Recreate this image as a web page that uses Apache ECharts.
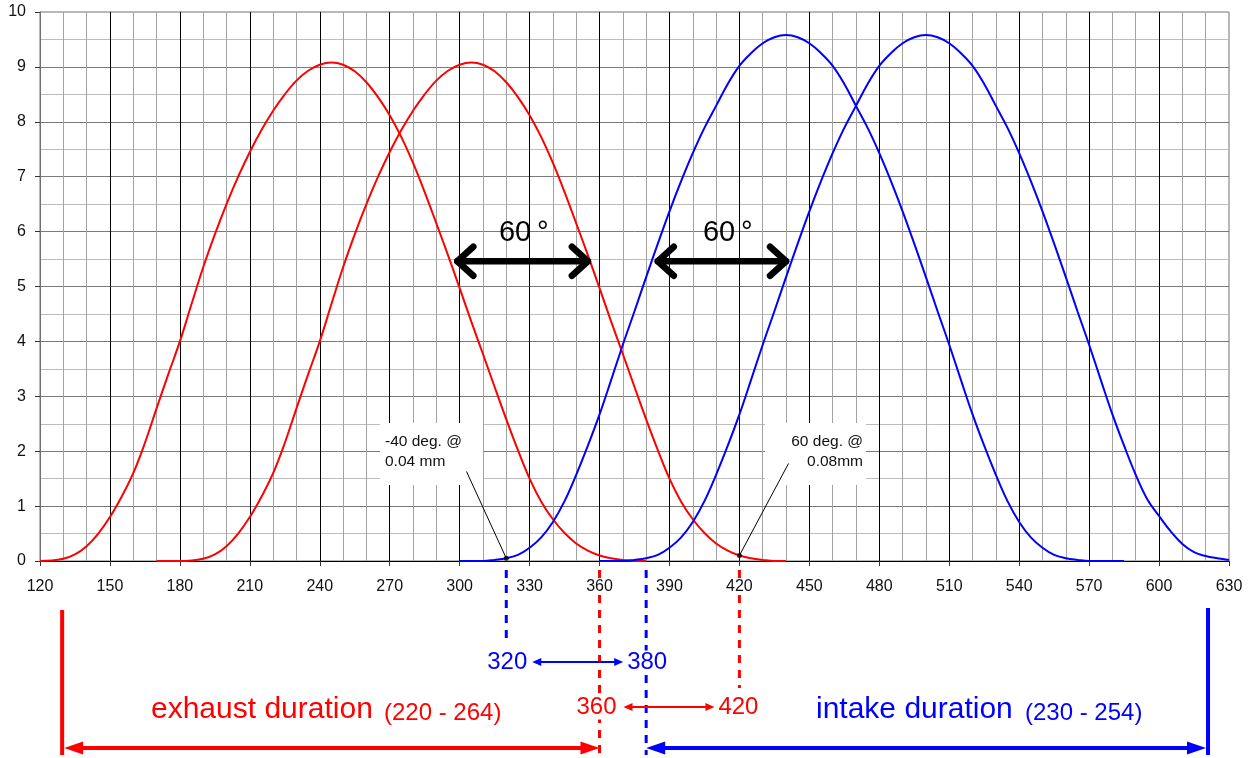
<!DOCTYPE html>
<html>
<head>
<meta charset="utf-8">
<title>Valve lift vs crank angle</title>
<script src="https://cdn.jsdelivr.net/npm/echarts@6/dist/echarts.min.js"></script>
<style>
  html, body { margin: 0; padding: 0; background: #fff; }
  #chart { width: 1250px; height: 758px; }
</style>
</head>
<body>
<div id="chart"></div>
<script>
// Lift tables (mm), sampled every STEP degrees of crank angle from the listed start angle.
const STEP = 5;

const exhaustAStart = 120;
const exhaustA = [0.00, 0.01, 0.04, 0.12, 0.27, 0.50, 0.80, 1.17, 1.60, 2.15, 2.78, 3.40, 4.00,
  4.68, 5.35, 5.95, 6.50, 7.00, 7.45, 7.85, 8.20, 8.50, 8.75, 8.93, 9.04, 9.08, 9.04, 8.92, 8.72,
  8.45, 8.12, 7.72, 7.25, 6.72, 6.15, 5.57, 4.97, 4.36, 3.77, 3.17, 2.58, 2.02, 1.50, 1.08, 0.76,
  0.51, 0.32, 0.19, 0.10, 0.05, 0.02, 0.00, 0.00];

const exhaustBStart = 170;
const exhaustB = [0.00, 0.00, 0.00, 0.01, 0.04, 0.12, 0.27, 0.50, 0.80, 1.17, 1.60, 2.15, 2.78,
  3.40, 4.00, 4.68, 5.35, 5.95, 6.50, 7.00, 7.45, 7.85, 8.20, 8.50, 8.75, 8.93, 9.04, 9.08, 9.04,
  8.92, 8.72, 8.45, 8.12, 7.72, 7.25, 6.72, 6.15, 5.57, 4.97, 4.36, 3.77, 3.17, 2.58, 2.02, 1.50,
  1.08, 0.76, 0.51, 0.32, 0.19, 0.10, 0.05, 0.02, 0.00, 0.00];

const intakeAStart = 300;
const intakeA = [0.00, 0.00, 0.00, 0.02, 0.05, 0.11, 0.24, 0.43, 0.71, 1.09, 1.57, 2.10, 2.67,
  3.30, 3.94, 4.55, 5.17, 5.78, 6.37, 6.92, 7.43, 7.89, 8.29, 8.69, 9.02, 9.25, 9.43, 9.54, 9.58,
  9.54, 9.43, 9.25, 9.02, 8.69, 8.29, 7.89, 7.43, 6.92, 6.37, 5.78, 5.17, 4.55, 3.94, 3.30, 2.67,
  2.10, 1.57, 1.09, 0.71, 0.43, 0.24, 0.11, 0.05, 0.02, 0.00, 0.00, 0.00, 0.00];

const intakeBStart = 360;
const intakeB = [0.00, 0.00, 0.00, 0.02, 0.05, 0.11, 0.24, 0.43, 0.71, 1.09, 1.57, 2.10, 2.67,
  3.30, 3.94, 4.55, 5.17, 5.78, 6.37, 6.92, 7.43, 7.89, 8.29, 8.69, 9.02, 9.25, 9.43, 9.54, 9.58,
  9.54, 9.43, 9.25, 9.02, 8.69, 8.29, 7.89, 7.43, 6.92, 6.37, 5.78, 5.17, 4.55, 3.94, 3.30, 2.67,
  2.10, 1.57, 1.12, 0.82, 0.54, 0.31, 0.16, 0.09, 0.05, 0.02];

// Crank-angle reference points shown under the axis
const overlapAngles = [320, 360, 380, 420];
const durationTexts = ['exhaust duration', '(220 - 264)', 'intake duration', '(230 - 254)'];
const calloutTexts = ['-40 deg. @', '0.04 mm', '60 deg. @', '0.08mm'];
const spreadText = '60\u2009°';

const RED = '#ff0000';
const BLUE = '#0000ff';
const FONT = '"Liberation Sans", Arial, Helvetica, sans-serif';

function toPairs(start, lifts) {
  return lifts.map((v, i) => [start + i * STEP, v]);
}
function liftAt(start, lifts, angle) {
  return lifts[Math.round((angle - start) / STEP)];
}

const chart = echarts.init(document.getElementById('chart'), null, { renderer: 'canvas' });

function curve(name, start, lifts, color) {
  return {
    name, type: 'line', data: toPairs(start, lifts),
    symbol: 'none', smooth: 0.4, silent: true, z: 3,
    lineStyle: { color, width: 2 }
  };
}

const option = {
  animation: false,
  backgroundColor: '#ffffff',
  grid: { left: 40, right: 21, top: 12, bottom: 197, outerBoundsMode: 'none',
          show: true, borderColor: '#707070', borderWidth: 1 },
  xAxis: [{
    type: 'value', min: 120, max: 630, interval: 30,
    axisLine: { show: true, onZero: false, lineStyle: { color: '#555', width: 1 } },
    axisTick: { show: true, length: 5, lineStyle: { color: '#333' } },
    axisLabel: { color: '#111', fontSize: 16, fontFamily: FONT, margin: 18 },
    splitLine: { show: true, showMinLine: false, showMaxLine: false, lineStyle: { color: '#000', width: 1 } },
    minorTick: { show: false, splitNumber: 3 },
    minorSplitLine: { show: true, lineStyle: { color: '#a3a3a3', width: 1 } }
  }, {
    type: 'value', position: 'top', min: 120, max: 630, interval: 30,
    axisLine: { show: true, lineStyle: { color: '#000', width: 1 } },
    axisTick: { show: false }, axisLabel: { show: false }, splitLine: { show: false }
  }],
  yAxis: {
    type: 'value', min: 0, max: 10, interval: 1,
    axisLine: { show: true, lineStyle: { color: '#707070', width: 1 } },
    axisTick: { show: true, length: 5, lineStyle: { color: '#333' } },
    axisLabel: { color: '#111', fontSize: 16, fontFamily: FONT, margin: 14 },
    splitLine: { show: true, showMinLine: false, showMaxLine: false, lineStyle: { color: '#7a7a7a', width: 1 } },
    minorTick: { show: false, splitNumber: 2 },
    minorSplitLine: { show: true, lineStyle: { color: '#bcbcbc', width: 1 } }
  },
  series: [
    curve('exhaust 1', exhaustAStart, exhaustA, RED),
    curve('exhaust 2', exhaustBStart, exhaustB, RED),
    curve('intake 1', intakeAStart, intakeA, BLUE),
    curve('intake 2', intakeBStart, intakeB, BLUE),
    {
      name: 'checkpoints', type: 'scatter', silent: true, z: 6,
      symbolSize: 5, itemStyle: { color: '#000' },
      data: [
        [overlapAngles[0], liftAt(intakeAStart, intakeA, overlapAngles[0])],
        [overlapAngles[3], liftAt(exhaustBStart, exhaustB, overlapAngles[3])]
      ]
    }
  ]
};

chart.setOption(option);

// ---------- annotations ----------
const px = (a, v) => chart.convertToPixel({ xAxisIndex: 0, yAxisIndex: 0 }, [a, v]);

function text(str, x, y, size, color, align, bg) {
  const style = { text: str, fill: color, font: size + 'px ' + FONT,
                  align: align || 'center', textAlign: align || 'center',
                  verticalAlign: 'middle', textVerticalAlign: 'middle' };
  if (bg) { style.backgroundColor = bg; style.padding = [0, 1]; }
  return { type: 'text', x, y, z: 20, silent: true, style };
}
function seg(x1, y1, x2, y2, color, width, dash) {
  return {
    type: 'line', z: 15, silent: true,
    shape: { x1, y1, x2, y2 },
    style: { stroke: color, lineWidth: width, lineDash: dash || null }
  };
}
function head(tipX, y, dir, len, half, color) {
  return {
    type: 'polygon', z: 16, silent: true,
    shape: { points: [[tipX, y], [tipX - dir * len, y - half], [tipX - dir * len, y + half]] },
    style: { fill: color }
  };
}
function doubleArrow(x1, x2, y, color, width, len, half) {
  return [
    seg(x1 + len * 0.8, y, x2 - len * 0.8, y, color, width),
    head(x1, y, -1, len, half, color),
    head(x2, y, 1, len, half, color)
  ];
}
function chevronArrow(x1, x2, y) {
  const w = 6.5, dx = 16, dy = 14.5;
  const st = { stroke: '#000', lineWidth: w, lineCap: 'round', lineJoin: 'round', fill: null };
  return [
    { type: 'line', z: 18, silent: true, shape: { x1, y1: y, x2, y2: y }, style: st },
    { type: 'polyline', z: 18, silent: true, shape: { points: [[x1 + dx, y - dy], [x1, y], [x1 + dx, y + dy]] }, style: st },
    { type: 'polyline', z: 18, silent: true, shape: { points: [[x2 - dx, y - dy], [x2, y], [x2 - dx, y + dy]] }, style: st }
  ];
}

const els = [];

// 60° spread arrows between the two cam curves
const spreadY = px(300, 5.46)[1];
els.push(...chevronArrow(px(299, 0)[0], px(355, 0)[0], spreadY));
els.push(...chevronArrow(px(385, 0)[0], px(440, 0)[0], spreadY));
const spreadTextY = px(300, 5.98)[1];
els.push(text(spreadText, px(327.5, 0)[0], spreadTextY, 29, '#000'));
els.push(text(spreadText, px(415, 0)[0], spreadTextY, 29, '#000'));

// Callout boxes with leader lines to the checkpoint markers
const cpA = px(overlapAngles[0], liftAt(intakeAStart, intakeA, overlapAngles[0]));
const cpB = px(overlapAngles[3], liftAt(exhaustBStart, exhaustB, overlapAngles[3]));
els.push({ type: 'rect', z: 1, silent: true, shape: { x: 380, y: 423, width: 103, height: 62 }, style: { fill: '#fff' } });
els.push({ type: 'rect', z: 1, silent: true, shape: { x: 765, y: 423, width: 101, height: 62 }, style: { fill: '#fff' } });
els.push(text(calloutTexts[0], 385, 441.5, 15.5, '#111', 'left'));
els.push(text(calloutTexts[1], 385, 461.5, 15.5, '#111', 'left'));
els.push(text(calloutTexts[2], 863, 441.5, 15.5, '#111', 'right'));
els.push(text(calloutTexts[3], 863, 461.5, 15.5, '#111', 'right'));
els.push(seg(466.5, 471.5, cpA[0], cpA[1], '#000', 1));
els.push(seg(788.5, 463.5, cpB[0], cpB[1], '#000', 1));

// Dashed drop lines under the axis (broken where they would cross a tick label)
const xa = overlapAngles.map(a => px(a, 0)[0]);
const dash = [8, 7];
function dropLine(x, yEnd, color, clearLabel) {
  if (!clearLabel) return [seg(x, 570, x, yEnd, color, 3, dash)];
  return [seg(x, 570, x, 578, color, 3), seg(x, 595, x, yEnd, color, 3, dash)];
}
els.push(...dropLine(xa[0], 642, BLUE, false));
els.push(...dropLine(xa[1], 757, RED, true));
els.push(...dropLine(xa[2], 755, BLUE, false));
els.push(...dropLine(xa[3], 688, RED, true));

// Overlap angle labels with arrows
els.push(text(String(overlapAngles[0]), xa[0] + 1, 662.5, 24, BLUE, 'center', '#fff'));
els.push(text(String(overlapAngles[2]), xa[2] + 1, 662.5, 24, BLUE, 'center', '#fff'));
els.push(...doubleArrow(xa[0] + 26, xa[2] - 23, 662, BLUE, 2, 9, 4));
els.push(text(String(overlapAngles[1]), xa[1] - 3, 707.5, 24, RED, 'center', '#fff'));
els.push(text(String(overlapAngles[3]), xa[3] - 1, 707.5, 24, RED, 'center', '#fff'));
els.push(...doubleArrow(xa[1] + 24, xa[3] - 25, 707, RED, 2, 9, 4));

// Exhaust / intake duration spans
const exhaustSpanStart = 129.5;
const intakeSpanEnd = 621;
const xs = px(exhaustSpanStart, 0)[0];
const xe = px(intakeSpanEnd, 0)[0];
els.push(seg(xs, 610, xs, 755, RED, 4));
els.push(seg(xe, 608, xe, 755, BLUE, 4));
els.push(...doubleArrow(xs + 2, xa[1], 748, RED, 4, 19, 6.5));
els.push(...doubleArrow(xa[2], xe - 2, 748, BLUE, 4, 19, 6.5));

els.push(text(durationTexts[0], 151, 709.5, 30, RED, 'left'));
els.push(text(durationTexts[1], 384, 713.5, 24, RED, 'left'));
els.push(text(durationTexts[2], 816, 709.5, 30, BLUE, 'left'));
els.push(text(durationTexts[3], 1025, 713.5, 24, BLUE, 'left'));

chart.setOption({ graphic: { elements: els } });
</script>
</body>
</html>
